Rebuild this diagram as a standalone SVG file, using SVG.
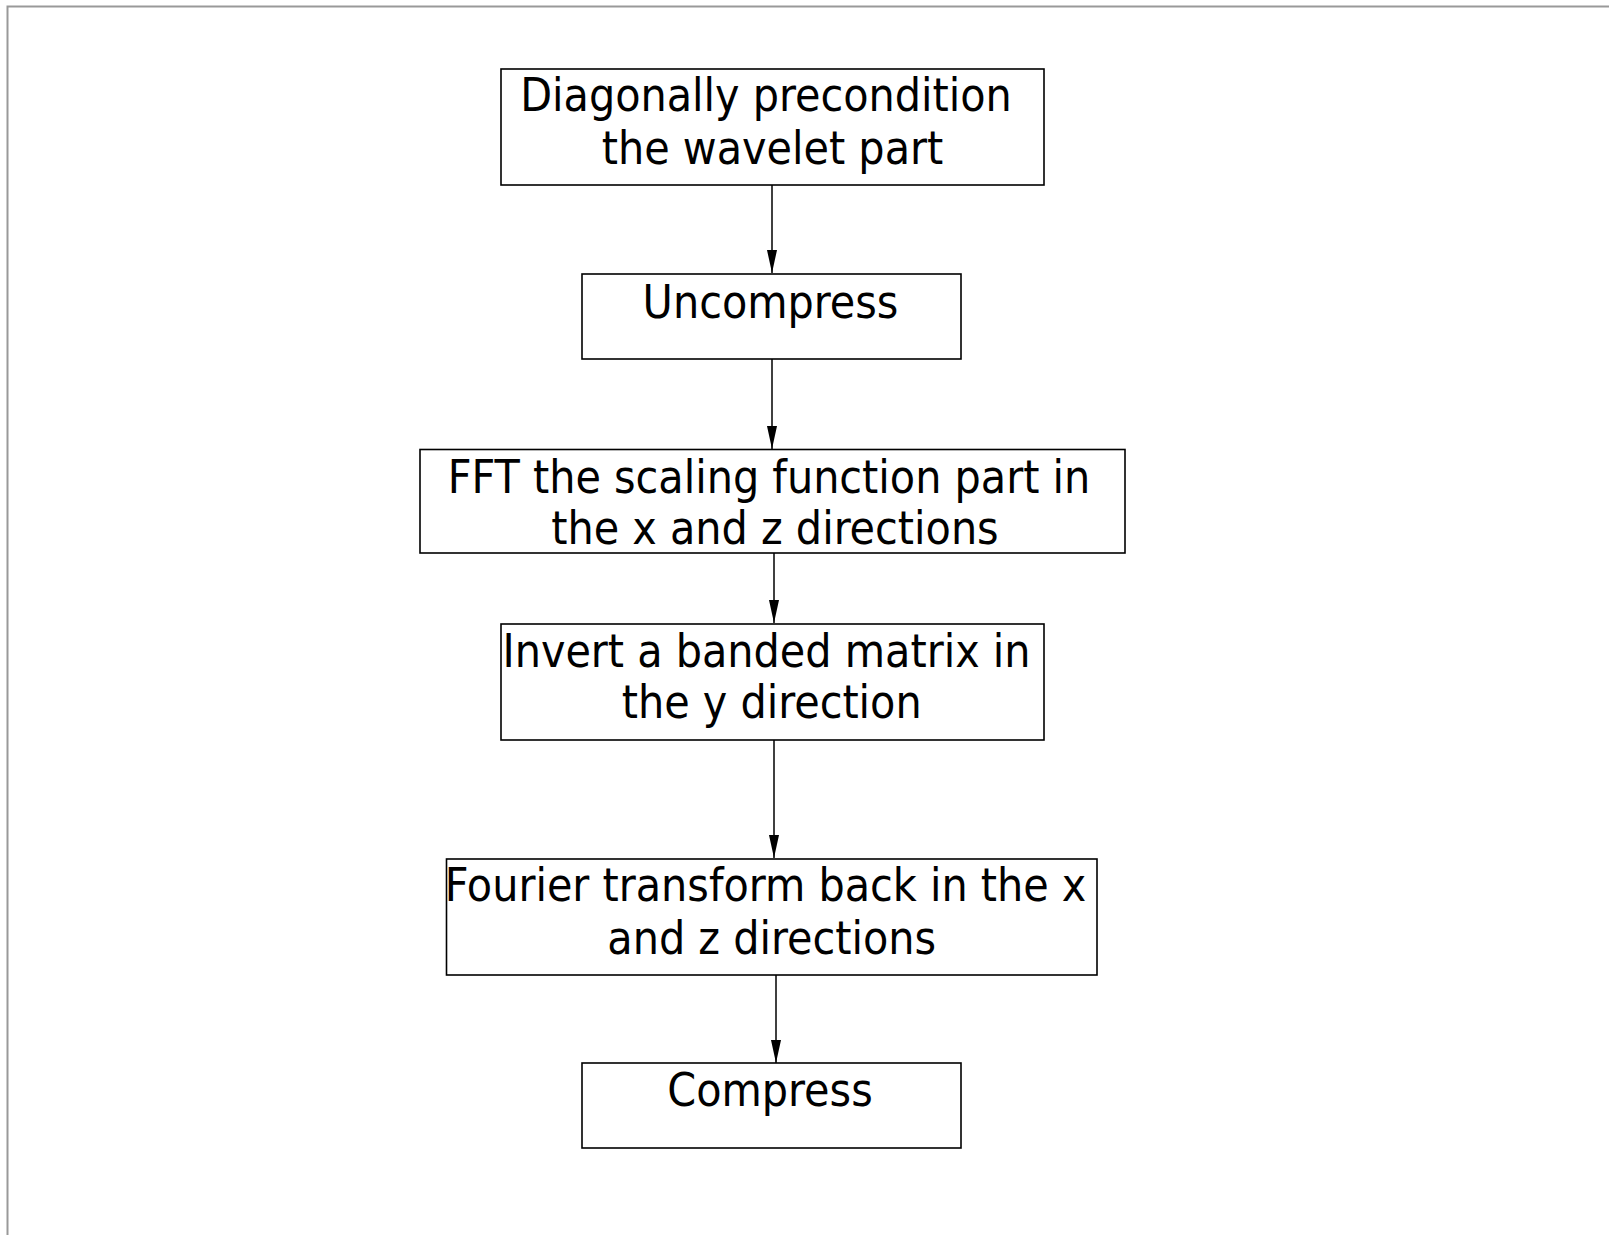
<svg xmlns="http://www.w3.org/2000/svg" width="1609" height="1235" viewBox="0 0 1609 1235">
<defs>
<style>
.box{fill:#fff;stroke:#000;stroke-width:1.6}
.t{font-family:"DejaVu Sans Condensed","DejaVu Sans",sans-serif;font-stretch:condensed;font-size:46px;fill:#000;text-anchor:middle}
.c{stroke:#000;stroke-width:1.5;fill:none}
</style>
<marker id="ah" markerUnits="userSpaceOnUse" markerWidth="23" markerHeight="10" refX="23" refY="5" orient="auto" viewBox="0 0 23 10">
<path d="M0,0 L23,5 L0,10 Z" fill="#000"/>
</marker>
</defs>
<rect width="1609" height="1235" fill="#fff"/>
<path d="M7.5,1235 V6.5 H1609" fill="none" stroke="#999" stroke-width="2"/>
<g id="connectors">
<line class="c" x1="772" y1="185" x2="772" y2="273" marker-end="url(#ah)"/>
<line class="c" x1="772" y1="359" x2="772" y2="449" marker-end="url(#ah)"/>
<line class="c" x1="774" y1="553" x2="774" y2="623" marker-end="url(#ah)"/>
<line class="c" x1="774" y1="740" x2="774" y2="858" marker-end="url(#ah)"/>
<line class="c" x1="776" y1="975" x2="776" y2="1063" marker-end="url(#ah)"/>
</g>
<g id="n1">
<rect class="box" x="501" y="69" width="543" height="116"/>
<text class="t" x="766" y="111">Diagonally precondition</text>
<text class="t" x="772.5" y="164">the wavelet part</text>
</g>
<g id="n2">
<rect class="box" x="582" y="274" width="379" height="85"/>
<text class="t" x="770.5" y="318">Uncompress</text>
</g>
<g id="n3">
<rect class="box" x="420" y="449.5" width="705" height="103.5"/>
<text class="t" x="769" y="492.5">FFT the scaling function part in</text>
<text class="t" x="775" y="544">the x and z directions</text>
</g>
<g id="n4">
<rect class="box" x="501" y="624" width="543" height="116"/>
<text class="t" x="766.5" y="667">Invert a banded matrix in</text>
<text class="t" x="771.7" y="718.3">the y direction</text>
</g>
<g id="n5">
<rect class="box" x="446.5" y="859" width="650.5" height="116"/>
<text class="t" x="765.5" y="901">Fourier transform back in the x</text>
<text class="t" x="771.7" y="954">and z directions</text>
</g>
<g id="n6">
<rect class="box" x="582" y="1063" width="379" height="85"/>
<text class="t" x="770" y="1106">Compress</text>
</g>
</svg>
